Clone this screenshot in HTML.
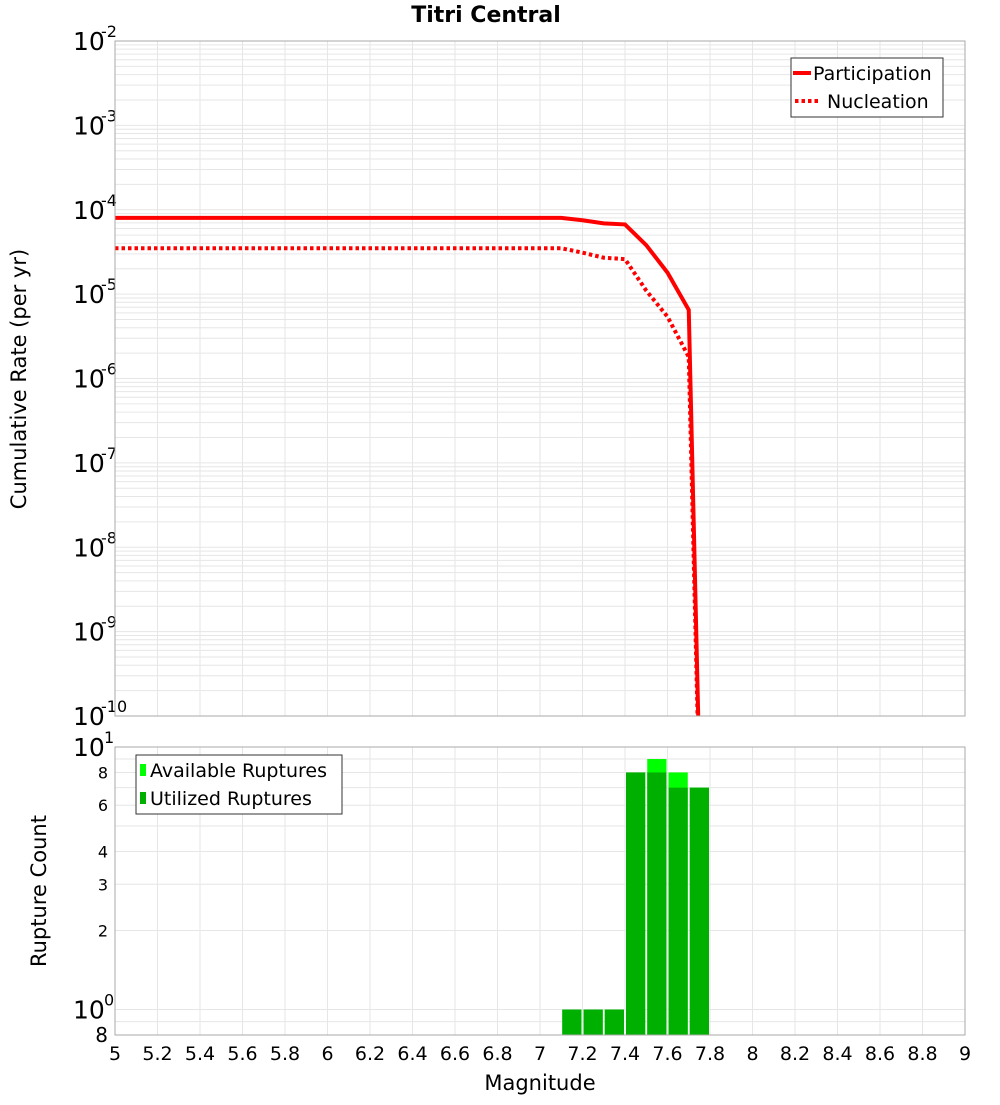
<!DOCTYPE html>
<html><head><meta charset="utf-8"><style>
body{margin:0;background:#fff;}
svg text{font-family:"DejaVu Sans","Liberation Sans",sans-serif;}
</style></head><body>
<svg id="chart" width="1000" height="1100" xmlns="http://www.w3.org/2000/svg">
<text x="486" y="22" text-anchor="middle" font-size="22" font-weight="bold">Titri Central</text>
<g id="topplot"></g>
<g id="botplot"></g>
<text transform="translate(26,379) rotate(-90)" text-anchor="middle" font-size="21">Cumulative Rate (per yr)</text>
<text transform="translate(46,891) rotate(-90)" text-anchor="middle" font-size="21">Rupture Count</text>
<text x="540" y="1090" text-anchor="middle" font-size="21">Magnitude</text>
</svg>
<script>
const mags = [5.0,5.1,5.2,5.3,5.4,5.5,5.6,5.7,5.8,5.9,6.0,6.1,6.2,6.3,6.4,6.5,6.6,6.7,6.8,6.9,7.0,7.1,7.2,7.3,7.4,7.5,7.6,7.7,7.8];
const participation = [8e-5,8e-5,8e-5,8e-5,8e-5,8e-5,8e-5,8e-5,8e-5,8e-5,8e-5,8e-5,8e-5,8e-5,8e-5,8e-5,8e-5,8e-5,8e-5,8e-5,8e-5,8e-5,7.5e-5,6.9e-5,6.7e-5,3.8e-5,1.8e-5,6.5e-6,1e-16];
const nucleation = [3.5e-5,3.5e-5,3.5e-5,3.5e-5,3.5e-5,3.5e-5,3.5e-5,3.5e-5,3.5e-5,3.5e-5,3.5e-5,3.5e-5,3.5e-5,3.5e-5,3.5e-5,3.5e-5,3.5e-5,3.5e-5,3.5e-5,3.5e-5,3.5e-5,3.5e-5,3.1e-5,2.7e-5,2.6e-5,1.1e-5,5.4e-6,1.8e-6,1e-16];
const binCenters = [7.15,7.25,7.35,7.45,7.55,7.65,7.75];
const available = [1,1,1,8,9,8,7];
const utilized = [1,1,1,8,8,7,7];
const xTicks = [5,5.2,5.4,5.6,5.8,6,6.2,6.4,6.6,6.8,7,7.2,7.4,7.6,7.8,8,8.2,8.4,8.6,8.8,9];
const topExps = [-2,-3,-4,-5,-6,-7,-8,-9,-10];
const botTicks = [8,6,4,3,2];

const NS="http://www.w3.org/2000/svg";
const X0=115,X1=965;
const xs=m=>X0+(m-5)/4*(X1-X0);
const T0=41,T1=716;
const yt=v=>T0+(-2-Math.log10(v))*(T1-T0)/8;
const B0=747,B1=1035;
const yb=v=>B0+(1-Math.log10(v))*(B1-B0)/(1-Math.log10(0.8));
function mk(p,t,a,txt){const e=document.createElementNS(NS,t);for(const k in a)e.setAttribute(k,a[k]);if(txt!==undefined)e.textContent=txt;p.appendChild(e);return e;}
const topG=document.getElementById('topplot'),botG=document.getElementById('botplot');
const cp=mk(topG,'clipPath',{id:'ct'});mk(cp,'rect',{x:X0,y:T0,width:X1-X0,height:T1-T0});
for(let d=-10;d<-2;d++)for(let k=1;k<10;k++){const y=yt(k*Math.pow(10,d));const l=mk(topG,'line',{x1:X0,x2:X1,y1:y,y2:y,stroke:'#e6e6e6','stroke-width':1});}
xTicks.forEach(t=>{const x=xs(t);const l=mk(topG,'line',{x1:x,x2:x,y1:T0,y2:T1,stroke:'#e6e6e6'});
 const l2=mk(botG,'line',{x1:x,x2:x,y1:B0,y2:B1,stroke:'#e6e6e6'});
 const tx=mk(botG,'text',{x:x,y:1060,'text-anchor':'middle','font-size':19},String(t));});
topExps.forEach(e=>{const y=yt(Math.pow(10,e));const t=mk(topG,'text',{x:73,y:y+9,'font-size':25},'10');
 const s=mk(topG,'text',{x:101,y:y-4,'font-size':16},String(e));});
function line(arr,dash,name){const pts=mags.map((m,i)=>xs(m)+','+yt(arr[i])).join(' ');const p=mk(topG,'polyline',{points:pts,fill:'none',stroke:'#ff0000','stroke-width':4,'clip-path':'url(#ct)'});if(dash)p.setAttribute('stroke-dasharray',dash);}
line(nucleation,'3.5,3','nucleation-line');
line(participation,null,'participation-line');
const f1=mk(topG,'rect',{x:X0,y:T0,width:X1-X0,height:T1-T0,fill:'none',stroke:'#aaa'});


const lg=mk(topG,'g',{});


mk(lg,'rect',{x:791,y:58,width:152,height:59,fill:'#fff',stroke:'#333'});
mk(lg,'line',{x1:793,x2:811,y1:73,y2:73,stroke:'#f00','stroke-width':4});
const lp=mk(lg,'text',{x:813,y:80,'font-size':19},'Participation');

mk(lg,'line',{x1:795,x2:820,y1:101,y2:101,stroke:'#f00','stroke-width':4,'stroke-dasharray':'3.5,3'});
const ln=mk(lg,'text',{x:827,y:108,'font-size':19},'Nucleation');

[0.8,0.9,1,2,3,4,5,6,7,8,9,10].forEach(v=>{const y=yb(v);const l=mk(botG,'line',{x1:X0,x2:X1,y1:y,y2:y,stroke:'#e6e6e6'});});
botTicks.forEach(v=>{const t=mk(botG,'text',{x:108,y:yb(v)+6,'text-anchor':'end','font-size':16},String(v));});
[[1,'1'],[0,'0']].forEach(([e,s])=>{const y=yb(Math.pow(10,e));const t=mk(botG,'text',{x:73,y:y+9,'font-size':25},'10');
 const u=mk(botG,'text',{x:104,y:y-4,'font-size':16},s);});
const t8=mk(botG,'text',{x:108,y:1042,'text-anchor':'end','font-size':20},'8');

binCenters.forEach((c,i)=>{const xl=xs(c-0.05)+1,w=xs(c+0.05)-xs(c-0.05)-2;
 const a=mk(botG,'rect',{x:xl,y:yb(available[i]),width:w,height:B1-yb(available[i]),fill:'#00ff00'});
 const u=mk(botG,'rect',{x:xl,y:yb(utilized[i]),width:w,height:B1-yb(utilized[i]),fill:'#00b000'});});
const f2=mk(botG,'rect',{x:X0,y:B0,width:X1-X0,height:B1-B0,fill:'none',stroke:'#aaa'});


const lb=mk(botG,'g',{});


mk(lb,'rect',{x:136,y:755,width:206,height:59,fill:'#fff',stroke:'#333'});
mk(lb,'rect',{x:140,y:764,width:6,height:12,fill:'#00ff00'});
const la=mk(lb,'text',{x:150,y:777,'font-size':19},'Available Ruptures');

mk(lb,'rect',{x:140,y:792,width:6,height:12,fill:'#00b000'});
const lu=mk(lb,'text',{x:150,y:805,'font-size':19},'Utilized Ruptures');

</script>
</body></html>
